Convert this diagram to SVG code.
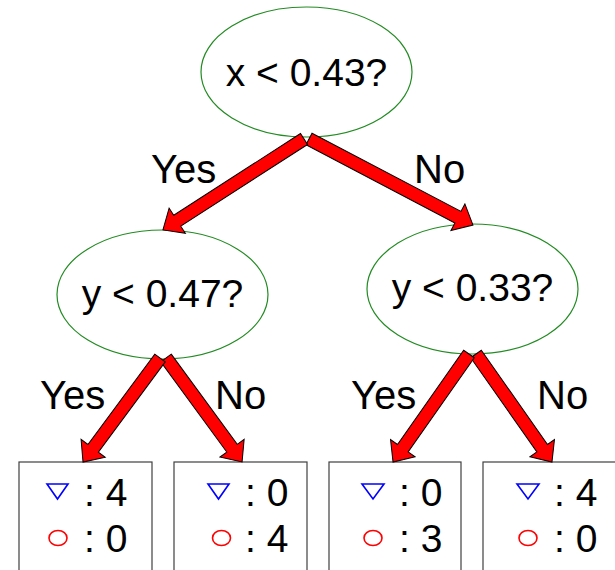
<svg xmlns="http://www.w3.org/2000/svg" width="615" height="570" viewBox="0 0 615 570">
<defs>
<style>
text{font-family:"Liberation Sans",Arial,sans-serif;fill:#000}
.node{fill:#fff;stroke:#228B22;stroke-width:1.2}
.q{font-size:39px;text-anchor:middle}
.lbl{font-size:40px}
.cnt{font-size:39px}
.leaf{fill:#fff;stroke:#404040;stroke-width:1.2}
.arr{fill:#f00;stroke:#000;stroke-width:1;stroke-linejoin:miter}
.tri{fill:none;stroke:#00f;stroke-width:1.6}
.circ{fill:none;stroke:#f00;stroke-width:1.6}
</style>
</defs>
<rect width="615" height="570" fill="#fff"/>
<g id="leaf1"><rect class="leaf" x="19" y="462" width="133" height="120"/>
<polygon class="tri" points="47,484 68,484 57.5,499"/><ellipse class="circ" cx="58" cy="538" rx="9" ry="7.5"/>
<text class="cnt" x="84" y="506">: 4</text><text class="cnt" x="84" y="552">: 0</text></g>
<g id="leaf2"><rect class="leaf" x="174" y="462" width="133" height="120"/>
<polygon class="tri" points="208,484 229,484 218.5,499"/><ellipse class="circ" cx="221.5" cy="538" rx="9" ry="7.5"/>
<text class="cnt" x="245" y="506">: 0</text><text class="cnt" x="245" y="552">: 4</text></g>
<g id="leaf3"><rect class="leaf" x="329" y="462" width="132" height="120"/>
<polygon class="tri" points="362,484 384,484 373,499"/><ellipse class="circ" cx="373" cy="538" rx="9" ry="7.5"/>
<text class="cnt" x="399" y="506">: 0</text><text class="cnt" x="399" y="552">: 3</text></g>
<g id="leaf4"><rect class="leaf" x="483" y="462" width="140" height="120"/>
<polygon class="tri" points="517,484 539,484 528,499"/><ellipse class="circ" cx="528" cy="538" rx="9" ry="7.5"/>
<text class="cnt" x="554" y="506">: 4</text><text class="cnt" x="554" y="552">: 0</text></g>
<g id="root"><ellipse class="node" cx="306.5" cy="72" rx="105.5" ry="65"/><text class="q" x="306.5" y="86">x &lt; 0.43?</text></g>
<g id="nodeL"><ellipse class="node" cx="162.5" cy="294.5" rx="105.5" ry="64.5"/><text class="q" x="162.5" y="307">y &lt; 0.47?</text></g>
<g id="nodeR"><ellipse class="node" cx="472.5" cy="289" rx="105.5" ry="65"/><text class="q" x="472.5" y="301">y &lt; 0.33?</text></g>
<g id="connectors">
<polygon class="arr" transform="translate(309,139) rotate(27.7)" points="0,-6.5 168.2,-6.5 168.2,-15 185.2,0 168.2,15 168.2,6.5 0,6.5"/>
<polygon class="arr" transform="translate(304,139) rotate(147.2)" points="0,-6.5 150.8,-6.5 150.8,-15 167.8,0 150.8,15 150.8,6.5 0,6.5"/>
<polygon class="arr" transform="translate(166,358) rotate(53.8)" points="0,-6.5 111.8,-6.5 111.8,-15 128.8,0 111.8,15 111.8,6.5 0,6.5"/>
<polygon class="arr" transform="translate(160,358) rotate(126.5)" points="0,-6.5 112.4,-6.5 112.4,-15 129.4,0 112.4,15 112.4,6.5 0,6.5"/>
<polygon class="arr" transform="translate(476,354) rotate(54.9)" points="0,-6.5 115.1,-6.5 115.1,-15 132.1,0 115.1,15 115.1,6.5 0,6.5"/>
<polygon class="arr" transform="translate(469,354) rotate(125.1)" points="0,-6.5 115.1,-6.5 115.1,-15 132.1,0 115.1,15 115.1,6.5 0,6.5"/>
<text class="lbl" x="151" y="183">Yes</text>
<text class="lbl" x="414" y="183">No</text>
<text class="lbl" x="40" y="409">Yes</text>
<text class="lbl" x="215" y="409">No</text>
<text class="lbl" x="351" y="409">Yes</text>
<text class="lbl" x="537" y="409">No</text>
</g>
</svg>
